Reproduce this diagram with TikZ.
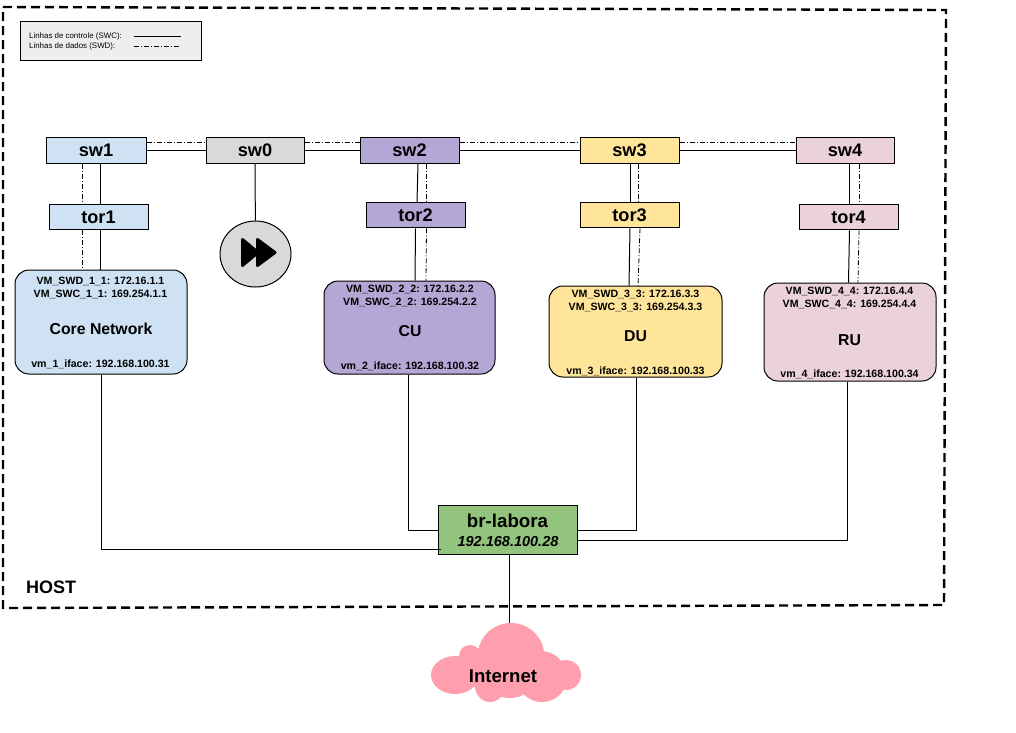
\documentclass[tikz,border=0pt]{standalone}
\usepackage{fontspec}
\setmainfont{Liberation Sans}
\usetikzlibrary{shapes.geometric}
\definecolor{blueVM}{HTML}{CFE2F3}
\definecolor{purpleVM}{HTML}{B4A7D6}
\definecolor{yellowVM}{HTML}{FFE599}
\definecolor{pinkVM}{HTML}{EAD1DC}
\definecolor{grayVM}{HTML}{D9D9D9}
\definecolor{greenBR}{HTML}{93C47D}
\definecolor{pinkCloud}{HTML}{FF9FAE}
\tikzset{
  box/.style={draw, line width=1pt, minimum width=99pt, minimum height=25.5pt, inner sep=0pt, font=\fontsize{18.2}{20}\selectfont\bfseries},
  vmbox/.style={draw, line width=1pt, rounded corners=14pt, inner sep=0pt, font=\fontsize{15.8}{18}\selectfont\bfseries},
  vmtext/.style={inner sep=0pt, font=\fontsize{10.6}{12}\selectfont\bfseries},
  swc/.style={line width=1pt},
  swd/.style={line width=0.8pt, dash pattern=on 5pt off 2pt on 1pt off 2pt},
}
\begin{document}
\begin{tikzpicture}[x=1pt,y=-1pt]
    \useasboundingbox (0,0) rectangle (1016,732);
    % Host
    \draw [line width=2.4pt, dash pattern=on 9pt off 5pt] (3,7) -- (946,10) -- (944,605) -- (3,608) -- cycle;
    \node [inner sep=0pt, anchor=west, font=\fontsize{18}{20}\selectfont\bfseries] (host) at (26,587) {HOST};
    % Legend
    \node [draw, line width=1pt, fill=black!6.5, minimum width=181pt, minimum height=39pt, inner sep=0pt] (legend) at (110.5,40.5) {};
    \node [inner sep=0pt, anchor=west, font=\fontsize{7.9}{9}\selectfont] (legSWC) at (29,36) {Linhas de controle (SWC):};
    \node [inner sep=0pt, anchor=west, font=\fontsize{7.9}{9}\selectfont] (legSWD) at (29,46) {Linhas de dados (SWD):};
    \coordinate (legA) at (134,36);
    \coordinate (legB) at (181,36);
    \coordinate (legC) at (134,46);
    \coordinate (legD) at (181,46);
    \draw [swc] (legA) -- (legB);
    \draw [swd] (legC) -- (legD);
    % Switches
    \node [box, fill=blueVM, minimum width=100pt] (sw1) at (96,150.5) {sw1};
    \node [box, fill=grayVM, minimum width=98pt] (sw0) at (255,150.5) {sw0};
    \node [box, fill=purpleVM] (sw2) at (409.5,150.5) {sw2};
    \node [box, fill=yellowVM] (sw3) at (629.5,150.5) {sw3};
    \node [box, fill=pinkVM, minimum width=98pt] (sw4) at (845,150.5) {sw4};
    % ToR
    \node [box, fill=blueVM] (tor1) at (98.5,217) {tor1};
    \node [box, fill=purpleVM] (tor2) at (415.5,215) {tor2};
    \node [box, fill=yellowVM] (tor3) at (629.5,215) {tor3};
    \node [box, fill=pinkVM] (tor4) at (848.5,217) {tor4};
    % Play
    \node [draw, line width=1pt, fill=grayVM, ellipse, minimum width=71pt, minimum height=66pt, inner sep=0pt] (play) at (255.5,254) {};
    \fill [line join=round, draw, line width=3pt] (242.5,239.5) -- (242.5,265.5) -- (258,252.5) -- cycle;
    \fill [line join=round, draw, line width=3pt] (257.5,239.5) -- (257.5,265.5) -- (275,252.5) -- cycle;
    % VM
    \node [vmbox, fill=blueVM, minimum width=172pt, minimum height=104pt] (vm1) at (101,322) {};
    \node [vmbox, fill=purpleVM, minimum width=171pt, minimum height=93pt] (vm2) at (409.5,327.5) {};
    \node [vmbox, fill=yellowVM, minimum width=173pt, minimum height=91pt] (vm3) at (635.5,331.5) {};
    \node [vmbox, fill=pinkVM, minimum width=172pt, minimum height=98pt] (vm4) at (850,332) {};
    \node [vmbox, draw=none] (core) at (101,329) {Core Network};
    \node [vmbox, draw=none] (cu) at (410,331) {CU};
    \node [vmbox, draw=none] (du) at (635.5,336) {DU};
    \node [vmbox, draw=none] (ru) at (849.5,340) {RU};
    \node [vmtext] (swd1) at (100.5,281) {VM\_SWD\_1\_1: 172.16.1.1};
    \node [vmtext] (swc1) at (100.5,294) {VM\_SWC\_1\_1: 169.254.1.1};
    \node [vmtext] (ifc1) at (100.5,364) {vm\_1\_iface: 192.168.100.31};
    \node [vmtext] (swd2) at (410,289) {VM\_SWD\_2\_2: 172.16.2.2};
    \node [vmtext] (swc2) at (410,302) {VM\_SWC\_2\_2: 169.254.2.2};
    \node [vmtext] (ifc2) at (410,366) {vm\_2\_iface: 192.168.100.32};
    \node [vmtext] (swd3) at (635.5,294) {VM\_SWD\_3\_3: 172.16.3.3};
    \node [vmtext] (swc3) at (635.5,307) {VM\_SWC\_3\_3: 169.254.3.3};
    \node [vmtext] (ifc3) at (635.5,371) {vm\_3\_iface: 192.168.100.33};
    \node [vmtext] (swd4) at (849.5,291) {VM\_SWD\_4\_4: 172.16.4.4};
    \node [vmtext] (swc4) at (849.5,304) {VM\_SWC\_4\_4: 169.254.4.4};
    \node [vmtext] (ifc4) at (849.5,374) {vm\_4\_iface: 192.168.100.34};
    % Bridge
    \node [draw, line width=1pt, fill=greenBR, minimum width=139pt, minimum height=49pt, inner sep=0pt] (br) at (507.5,529.5) {};
    \node [inner sep=0pt, font=\fontsize{18.7}{20}\selectfont\bfseries] (brname) at (507.5,521) {br-labora};
    \node [inner sep=0pt, font=\fontsize{14.5}{16}\selectfont\bfseries\itshape] (brip) at (508,541) {192.168.100.28};
    % Linhas SWC
    \draw [swc] (sw1) -- (sw0);
    \draw [swc] (sw0) -- (sw2);
    \draw [swc] (sw2) -- (sw3);
    \draw [swc] (sw3) -- (sw4);
    \draw [swc] (sw0) -- (play);
    \draw [swc] ([xshift=4pt]sw1.south) -- ([xshift=1.5pt]tor1.north);
    \draw [swc] ([xshift=8.5pt]sw2.south) -- ([xshift=1.5pt]tor2.north);
    \draw [swc] ([xshift=1pt]sw3.south) -- ([xshift=1pt]tor3.north);
    \draw [swc] ([xshift=4.5pt]sw4.south) -- ([xshift=1pt]tor4.north);
    \draw [swc] ([xshift=1.5pt]tor1.south) -- ([xshift=-1pt]vm1.north);
    \draw [swc] (tor2.south) -- ([xshift=5.5pt]vm2.north);
    \draw [swc] ([xshift=0.5pt]tor3.south) -- ([xshift=-6.5pt]vm3.north);
    \draw [swc] ([xshift=1pt]tor4.south) -- ([xshift=-1.5pt]vm4.north);
    % Linhas SWD
    \draw [swd] ([yshift=8pt]sw1.east) -- ([yshift=8pt]sw0.west);
    \draw [swd] ([yshift=8pt]sw0.east) -- ([yshift=8pt]sw2.west);
    \draw [swd] ([yshift=8pt]sw2.east) -- ([yshift=8pt]sw3.west);
    \draw [swd] ([yshift=8pt]sw3.east) -- ([yshift=8pt]sw4.west);
    \draw [swd] ([xshift=-14pt]sw1.south) -- ([xshift=-16.5pt]tor1.north);
    \draw [swd] ([xshift=17pt]sw2.south) -- ([xshift=11pt]tor2.north);
    \draw [swd] ([xshift=8.5pt]sw3.south) -- ([xshift=8.5pt]tor3.north);
    \draw [swd] ([xshift=14pt]sw4.south) -- ([xshift=10.5pt]tor4.north);
    \draw [swd] ([xshift=-16.5pt]tor1.south) -- ([xshift=-19pt]vm1.north);
    \draw [swd] ([xshift=11pt]tor2.south) -- ([xshift=16.5pt]vm2.north);
    \draw [swd] ([xshift=10.5pt]tor3.south) -- ([xshift=2.5pt]vm3.north);
    \draw [swd] ([xshift=10.5pt]tor4.south) -- ([xshift=8pt]vm4.north);
    % Linhas br-labora
    \coordinate (brA) at (441,549.5);
    \draw [swc] (vm1.south) |- (brA);
    \draw [swc] ([xshift=-1.5pt]vm2.south) |- ([yshift=-0.5pt]br.west);
    \draw [swc] ([xshift=0.5pt]vm3.south) |- ([yshift=-0.5pt]br.east);
    \coordinate (brB) at (577,540.5);
    \draw [swc] ([xshift=-3pt]vm4.south) |- (brB);
    % Internet
    \coordinate (cloudTop) at (509.5,625);
    \draw [swc] (br.south -| cloudTop) -- (cloudTop);
    \fill [pinkCloud] (511,655) ellipse (33 and 32)
        (470,656) ellipse (11 and 11)
        (455,675) ellipse (24 and 19)
        (490,686) ellipse (15 and 16)
        (510,682) ellipse (22 and 16)
        (542,680) ellipse (24 and 22)
        (540,672) ellipse (25 and 21)
        (505,672) ellipse (45 and 20)
        (566,675) ellipse (15 and 15);
    \node [inner sep=0pt, font=\fontsize{18.6}{20}\selectfont\bfseries] (internet) at (503,676) {Internet};
\end{tikzpicture}
\end{document}
